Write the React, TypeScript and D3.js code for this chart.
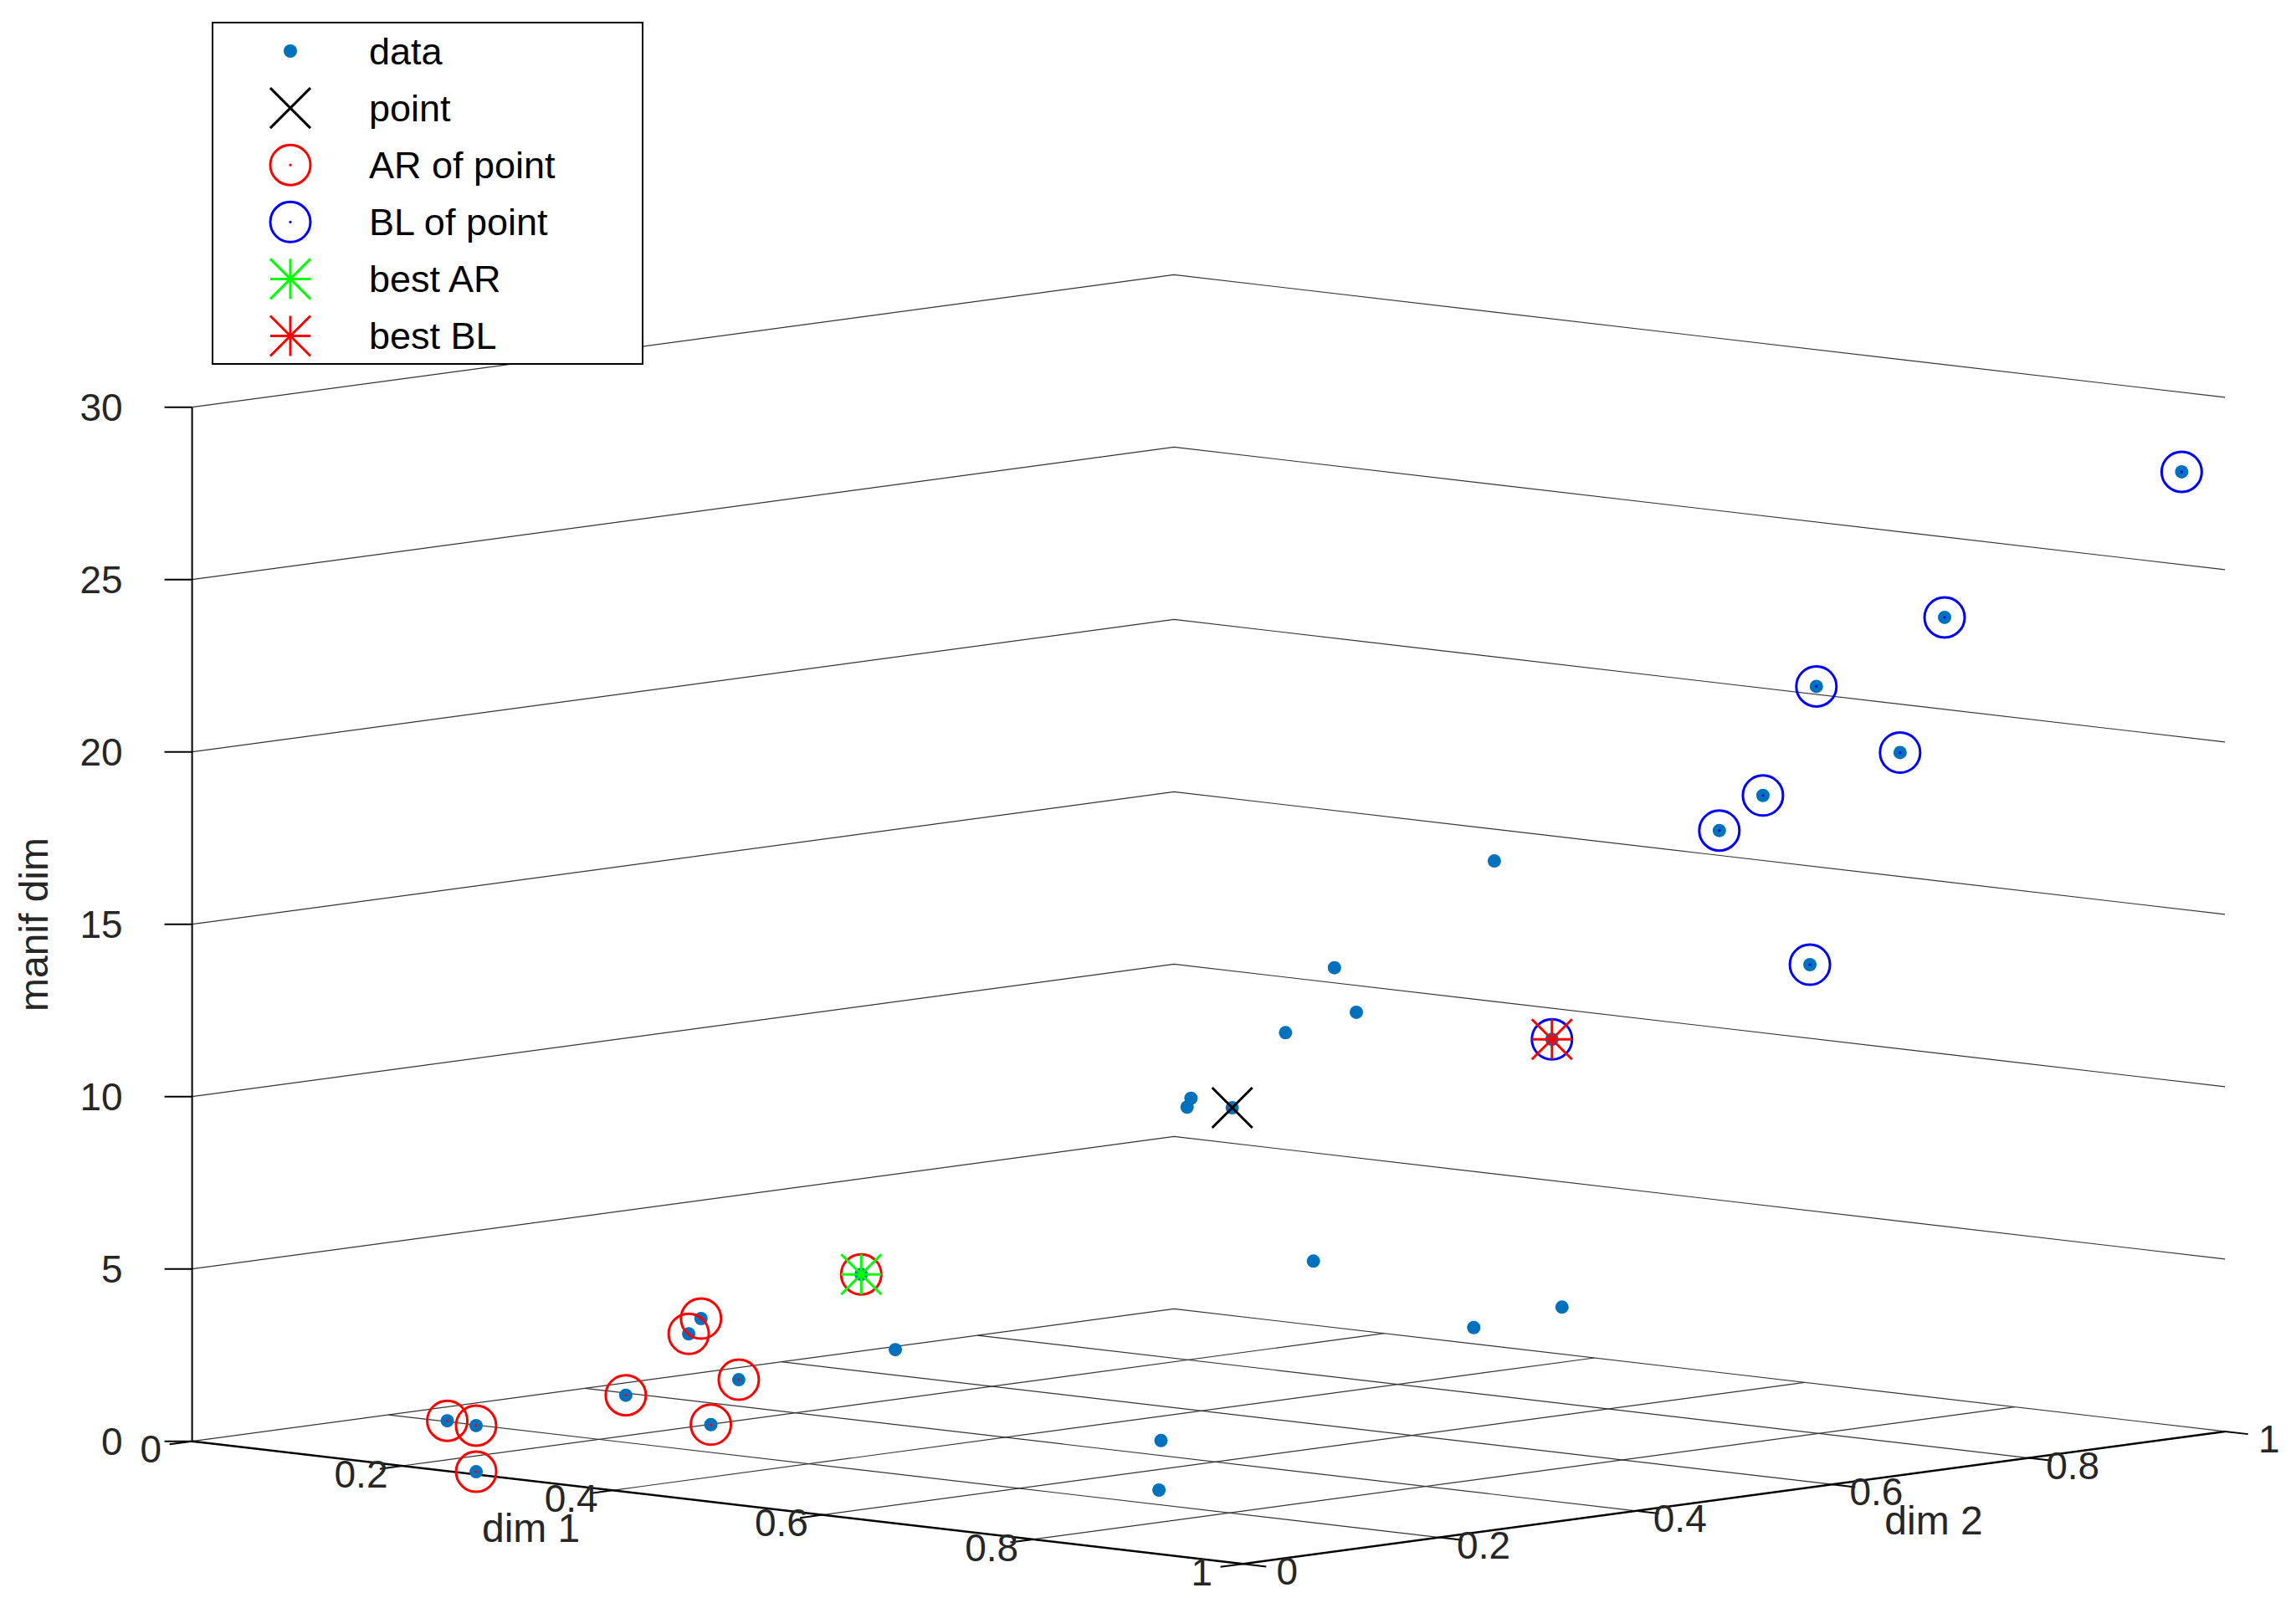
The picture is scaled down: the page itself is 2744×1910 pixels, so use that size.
import React, { useEffect } from "react";
import * as d3 from "d3";

// ---- data (dim 1, dim 2, manif dim) ----
const dim1 = [0.183, 0.216, 0.26, 0.308, 0.332, 0.437, 0.238, 0.317, 0.362, 0.273, 0.622, 0.678, 0.412, 0.615, 0.713, 0.417, 0.516, 0.573, 0.577, 0.617, 0.536, 0.686, 0.738, 0.848, 0.816, 0.836, 0.874, 0.842, 0.907, 0.999];
const dim2 = [0.064, 0.058, 0.011, 0.112, 0.173, 0.089, 0.251, 0.179, 0.294, 0.424, 0.321, 0.259, 0.701, 0.647, 0.632, 0.567, 0.465, 0.446, 0.496, 0.503, 0.612, 0.592, 0.595, 0.74, 0.682, 0.705, 0.804, 0.753, 0.814, 0.957];
const manifDim = [1, 1, 0, 2, 1, 3, 3, 4, 5, 2, 1, 0, 4, 3, 4, 9, 10, 10, 12, 14, 12, 17, 12, 14, 18, 19, 20, 22, 24, 28];

const pointIndex = 17;
const arIndices = [0, 1, 2, 3, 4, 5, 6, 7, 8];
const blIndices = [22, 23, 24, 25, 26, 27, 28, 29];
const bestArIndex = 8;
const bestBlIndex = 22;

const dimTicks = [0, 0.2, 0.4, 0.6, 0.8, 1];
const dimTickLabels = ["0", "0.2", "0.4", "0.6", "0.8", "1"];
const zTicks = [0, 5, 10, 15, 20, 25, 30];
const zTickLabels = ["0", "5", "10", "15", "20", "25", "30"];
const floorGrid = [0.2, 0.4, 0.6, 0.8];
const legendLabels = ["data", "point", "AR of point", "BL of point", "best AR", "best BL"];

const W = 2744;
const H = 1910;
const FONT = "'Liberation Sans', Arial, Helvetica, sans-serif";
const DATA_COLOR = "#0072BD";
const MS = 24; // marker half-size

function Dot({ x, y }: { x: number; y: number }) {
  return <circle cx={x} cy={y} r={8} fill={DATA_COLOR} />;
}
function Cross({ x, y, color }: { x: number; y: number; color: string }) {
  return (
    <g stroke={color} strokeWidth={3} strokeLinecap="butt">
      <line x1={x - MS} y1={y - MS} x2={x + MS} y2={y + MS} />
      <line x1={x - MS} y1={y + MS} x2={x + MS} y2={y - MS} />
    </g>
  );
}
function Ring({ x, y, color }: { x: number; y: number; color: string }) {
  return (
    <g>
      <circle cx={x} cy={y} r={MS} fill="none" stroke={color} strokeWidth={3} />
      <circle cx={x} cy={y} r={1.6} fill={color} />
    </g>
  );
}
function Star({ x, y, color }: { x: number; y: number; color: string }) {
  return (
    <g stroke={color} strokeWidth={3}>
      <line x1={x - MS} y1={y} x2={x + MS} y2={y} />
      <line x1={x} y1={y - MS} x2={x} y2={y + MS} />
      <line x1={x - MS} y1={y - MS} x2={x + MS} y2={y + MS} />
      <line x1={x - MS} y1={y + MS} x2={x + MS} y2={y - MS} />
    </g>
  );
}

export default function App() {
  useEffect(() => {
    document.body.style.margin = "0";
  }, []);

  const ox = 229.6;
  const oy = 1722.7;
  const d1x = d3.scaleLinear().domain([0, 1]).range([0, 1256]);
  const d1y = d3.scaleLinear().domain([0, 1]).range([0, 146.5]);
  const d2x = d3.scaleLinear().domain([0, 1]).range([0, 1173.5]);
  const d2y = d3.scaleLinear().domain([0, 1]).range([0, -158.3]);
  const zy = d3.scaleLinear().domain([0, 30]).range([0, -1236]);
  const P = (a: number, b: number, c: number): [number, number] => [
    ox + d1x(a) + d2x(b),
    oy + d1y(a) + d2y(b) + zy(c),
  ];
  const line = d3.line();

  const pts = dim1.map((d, i) => P(d, dim2[i], manifDim[i]));

  const legendX = 254;
  const legendY = 27;
  const rowY = (i: number) => 61 + i * 68.1;
  const symX = 347;
  const textX = 441;

  return (
    <svg
      width={W}
      height={H}
      viewBox={`0 0 ${W} ${H}`}
      style={{ position: "absolute", left: 0, top: 0, display: "block", background: "#fff" }}
      fontFamily={FONT}
    >
      <rect x={0} y={0} width={W} height={H} fill="#fff" />
      {/* grid */}
      <g fill="none" stroke="#333" strokeWidth={1.2}>
        {zTicks.map((z) => (
          <path key={"zg" + z} d={line([P(0, 0, z), P(0, 1, z), P(1, 1, z)]) || ""} />
        ))}
        {floorGrid.map((t) => (
          <path key={"g1" + t} d={line([P(t, 0, 0), P(t, 1, 0)]) || ""} />
        ))}
        {floorGrid.map((t) => (
          <path key={"g2" + t} d={line([P(0, t, 0), P(1, t, 0)]) || ""} />
        ))}
      </g>
      {/* axes */}
      <g fill="none" stroke="#000">
        <path d={line([P(0, 0, 0), P(0, 0, 30)]) || ""} strokeWidth={2} />
        <path d={line([P(0, 0, 0), P(1, 0, 0)]) || ""} strokeWidth={2.5} />
        <path d={line([P(1, 0, 0), P(1, 1, 0)]) || ""} strokeWidth={2.5} />
        {zTicks.map((z) => {
          const [x, y] = P(0, 0, z);
          return <line key={"zt" + z} x1={x - 33} y1={y} x2={x} y2={y} strokeWidth={2} />;
        })}
        {dimTicks.map((t) => {
          const a = P(t, 0, 0);
          const b = P(t, -0.023, 0);
          return <line key={"t1" + t} x1={a[0]} y1={a[1]} x2={b[0]} y2={b[1]} strokeWidth={2} />;
        })}
        {dimTicks.map((t) => {
          const a = P(1, t, 0);
          const b = P(1.022, t, 0);
          return <line key={"t2" + t} x1={a[0]} y1={a[1]} x2={b[0]} y2={b[1]} strokeWidth={2} />;
        })}
      </g>
      {/* tick labels */}
      <g fill="#262626" fontSize={46}>
        {zTicks.map((z, i) => {
          const [x, y] = P(0, 0, z);
          return (
            <text key={"zl" + z} x={x - 83} y={y} textAnchor="end" dominantBaseline="central">
              {zTickLabels[i]}
            </text>
          );
        })}
        {dimTicks.map((t, i) => {
          const [x, y] = P(t, -0.042, 0);
          return (
            <text key={"l1" + t} x={x} y={y + 3} textAnchor="middle" dominantBaseline="central">
              {dimTickLabels[i]}
            </text>
          );
        })}
        {dimTicks.map((t, i) => {
          const [x, y] = P(1.042, t, 0);
          return (
            <text key={"l2" + t} x={x} y={y + 3} textAnchor="middle" dominantBaseline="central">
              {dimTickLabels[i]}
            </text>
          );
        })}
      </g>
      {/* axis labels */}
      <g fill="#262626" fontSize={48}>
        {(() => {
          const [x, y] = P(0.5, -0.19, 0);
          return (
            <text x={x} y={y} textAnchor="middle" dominantBaseline="central">
              dim 1
            </text>
          );
        })()}
        {(() => {
          const [x, y] = P(1.19, 0.5, 0);
          return (
            <text x={x} y={y} textAnchor="middle" dominantBaseline="central">
              dim 2
            </text>
          );
        })()}
        <text x={57} y={1105} textAnchor="middle" transform="rotate(-90 57 1105)">
          manif dim
        </text>
      </g>
      {/* data */}
      {pts.map(([x, y], i) => (
        <Dot key={"d" + i} x={x} y={y} />
      ))}
      <Cross x={pts[pointIndex][0]} y={pts[pointIndex][1]} color="#000" />
      {arIndices.map((i) => (
        <Ring key={"ar" + i} x={pts[i][0]} y={pts[i][1]} color="#FF0000" />
      ))}
      {blIndices.map((i) => (
        <Ring key={"bl" + i} x={pts[i][0]} y={pts[i][1]} color="#0000FF" />
      ))}
      <Star x={pts[bestArIndex][0]} y={pts[bestArIndex][1]} color="#00FF00" />
      <Star x={pts[bestBlIndex][0]} y={pts[bestBlIndex][1]} color="#FF0000" />

      {/* legend */}
      <rect x={legendX} y={legendY} width={514} height={408} fill="#fff" stroke="#000" strokeWidth={2} />
      <Dot x={symX} y={rowY(0)} />
      <Cross x={symX} y={rowY(1)} color="#000" />
      <Ring x={symX} y={rowY(2)} color="#FF0000" />
      <Ring x={symX} y={rowY(3)} color="#0000FF" />
      <Star x={symX} y={rowY(4)} color="#00FF00" />
      <Star x={symX} y={rowY(5)} color="#FF0000" />
      <g fill="#000" fontSize={45}>
        {legendLabels.map((l, i) => (
          <text key={l} x={textX} y={rowY(i)} dominantBaseline="central">
            {l}
          </text>
        ))}
      </g>
    </svg>
  );
}
